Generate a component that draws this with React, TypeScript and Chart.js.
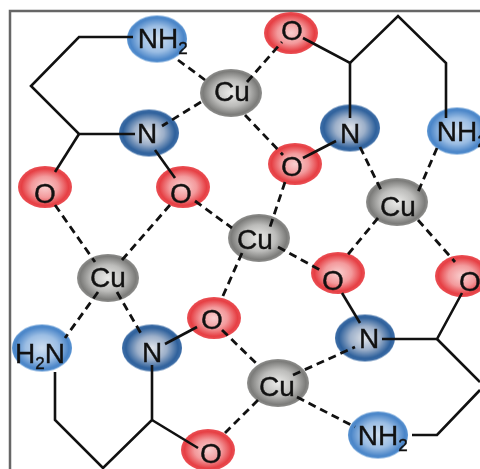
import React, { useEffect, useRef } from "react";
import { Chart, registerables } from "chart.js";

Chart.register(...registerables);

const atomLabels = ["NH2", "Cu", "N", "O", "O", "O", "N", "NH2", "O", "Cu", "Cu", "Cu", "O", "O", "O", "H2N", "N", "N", "Cu", "NH2", "O"];
const atomKinds = ["amine", "cu", "n", "o", "o", "o", "n", "amine", "o", "cu", "cu", "cu", "o", "o", "o", "amine", "n", "n", "cu", "amine", "o"];
const atomX = [157, 231, 149, 45, 183, 291, 350, 457, 295, 397, 259, 108, 338, 462, 214, 42, 152, 365, 278, 378, 208];
const atomY = [39, 93, 133, 187, 187, 33, 128, 131, 164, 202, 238, 278, 273, 276, 318, 348, 348, 338, 383, 435, 450];
const labelX = [158, 232, 147, 45, 181, 292, 350, 457, 292, 398, 255, 108, 333, 470, 212, 40, 152, 369, 277, 378, 211];
const labelY = [38, 91, 133, 193, 193, 30, 133, 131, 166, 206, 239, 277, 280, 281, 319, 353, 352, 338, 386, 435, 453];

const frame = [[10, 469], [10, 11], [480, 11]];

const solidBonds = [
  [[133, 37], [79, 37], [31, 86], [79, 134], [135, 134]],
  [[79, 134], [55, 172]],
  [[155, 150], [175, 178]],
  [[303, 38], [350, 63], [398, 16], [446, 63], [446, 118]],
  [[350, 63], [350, 118]],
  [[336, 141], [303, 158]],
  [[342, 293], [360, 323]],
  [[382, 339], [437, 339], [462, 293]],
  [[437, 339], [480, 382]],
  [[480, 390], [437, 435], [412, 435]],
  [[55, 372], [55, 420], [103, 468], [152, 420], [152, 365]],
  [[152, 420], [198, 448]],
  [[165, 344], [197, 327]],
];

const dashedBonds = [
  [[178, 60], [205, 80]],
  [[201, 102], [162, 126]],
  [[247, 82], [282, 42]],
  [[245, 115], [283, 155]],
  [[55, 205], [95, 262]],
  [[170, 205], [122, 260]],
  [[195, 201], [232, 228]],
  [[285, 182], [269, 230]],
  [[360, 147], [382, 192]],
  [[437, 148], [418, 192]],
  [[378, 218], [345, 258]],
  [[418, 220], [455, 262]],
  [[278, 247], [320, 270]],
  [[242, 253], [222, 298]],
  [[98, 292], [65, 338]],
  [[117, 292], [143, 337]],
  [[222, 330], [258, 365]],
  [[293, 375], [355, 347]],
  [[297, 397], [355, 427]],
  [[258, 400], [225, 433]],
];

const atomLooks: Record<string, { rx: number; ry: number; stops: [number, string][] }> = {
  o: { rx: 27, ry: 21, stops: [[0, "#f9cfcf"], [0.5, "#f39a9c"], [0.87, "#e63f44"], [1, "#ea4f54"]] },
  n: { rx: 30, ry: 23.5, stops: [[0, "#e2e5ea"], [0.5, "#9db0ca"], [0.87, "#2f619c"], [1, "#3f6fa8"]] },
  amine: { rx: 30, ry: 23.5, stops: [[0, "#cfdff0"], [0.55, "#9cbee4"], [0.9, "#4a85c8"], [1, "#5a94d2"]] },
  cu: { rx: 31, ry: 24, stops: [[0, "#ebebe9"], [0.55, "#bcbcba"], [0.9, "#7c7c7a"], [1, "#8e8e8c"]] },
};

function atomSprite(kind: string): HTMLCanvasElement {
  const look = atomLooks[kind];
  const c = document.createElement("canvas");
  c.width = Math.ceil(look.rx * 2 + 6);
  c.height = Math.ceil(look.ry * 2 + 6);
  const g = c.getContext("2d")!;
  g.filter = "blur(0.6px)";
  g.translate(c.width / 2, c.height / 2);
  g.scale(look.rx, look.ry);
  const grad = g.createRadialGradient(0, 0, 0, 0, 0, 1);
  look.stops.forEach(([at, col]) => grad.addColorStop(at, col));
  g.fillStyle = grad;
  g.beginPath();
  g.arc(0, 0, 1, 0, Math.PI * 2);
  g.fill();
  return c;
}

const toPoints = (path: number[][]) => path.map(([x, y]) => ({ x, y }));

const labelPlugin = {
  id: "atomLabels",
  afterDatasetsDraw(chart: any) {
    const { ctx, scales } = chart;
    const big = '28px "Liberation Sans"';
    const small = '17px "Liberation Sans"';
    ctx.save();
    ctx.fillStyle = "#111";
    ctx.strokeStyle = "#111";
    ctx.lineWidth = 0.4;
    ctx.textBaseline = "alphabetic";
    ctx.textAlign = "left";
    atomLabels.forEach((label, i) => {
      const cx = scales.x.getPixelForValue(labelX[i]);
      const cy = scales.y.getPixelForValue(labelY[i]);
      const parts = label.split(/(\d)/).filter(Boolean);
      // a trailing subscript hangs outside the centred text
      const centred = /\d$/.test(label) ? parts.slice(0, -1) : parts;
      let total = 0;
      centred.forEach((p: string) => {
        ctx.font = /\d/.test(p) ? small : big;
        total += ctx.measureText(p).width;
      });
      let x = cx - total / 2;
      parts.forEach((p: string) => {
        const sub = /\d/.test(p);
        ctx.font = sub ? small : big;
        const y = cy + (sub ? 16 : 10);
        ctx.fillText(p, x, y);
        ctx.strokeText(p, x, y);
        x += ctx.measureText(p).width;
      });
    });
    ctx.restore();
  },
};

export default function App() {
  const ref = useRef<HTMLCanvasElement>(null);
  useEffect(() => {
    const sprites: Record<string, HTMLCanvasElement> = {};
    Object.keys(atomLooks).forEach((k) => (sprites[k] = atomSprite(k)));
    const lineBase = { showLine: true, pointRadius: 0, fill: false, tension: 0 };
    const chart = new Chart(ref.current!, {
      type: "scatter",
      data: {
        datasets: [
          ...solidBonds.map((b) => ({ ...lineBase, data: toPoints(b), borderColor: "#111", borderWidth: 2.6, order: 1 })),
          ...dashedBonds.map((b) => ({ ...lineBase, data: toPoints(b), borderColor: "#111", borderWidth: 2.8, borderDash: [8, 5], order: 1 })),
          {
            data: atomX.map((x, i) => ({ x, y: atomY[i] })),
            pointStyle: atomKinds.map((k) => sprites[k]),
            order: 2,
          },
          { ...lineBase, data: toPoints(frame), borderColor: "#666", borderWidth: 2.5, order: 3 },
        ] as any,
      },
      options: {
        animation: false,
        responsive: false,
        devicePixelRatio: 1,
        clip: false,
        layout: { padding: 0, autoPadding: false },
        plugins: { legend: { display: false }, tooltip: { enabled: false } },
        scales: {
          x: { type: "linear", min: 0, max: 480, display: false },
          y: { type: "linear", min: 0, max: 469, reverse: true, display: false },
        },
      } as any,
      plugins: [labelPlugin],
    });
    return () => chart.destroy();
  }, []);
  return (
    <div style={{ position: "absolute", left: 0, top: 0, width: 480, height: 469, background: "#fff", overflow: "hidden" }}>
      <canvas ref={ref} width={480} height={469} style={{ display: "block", filter: "blur(0.4px)" }} />
    </div>
  );
}
